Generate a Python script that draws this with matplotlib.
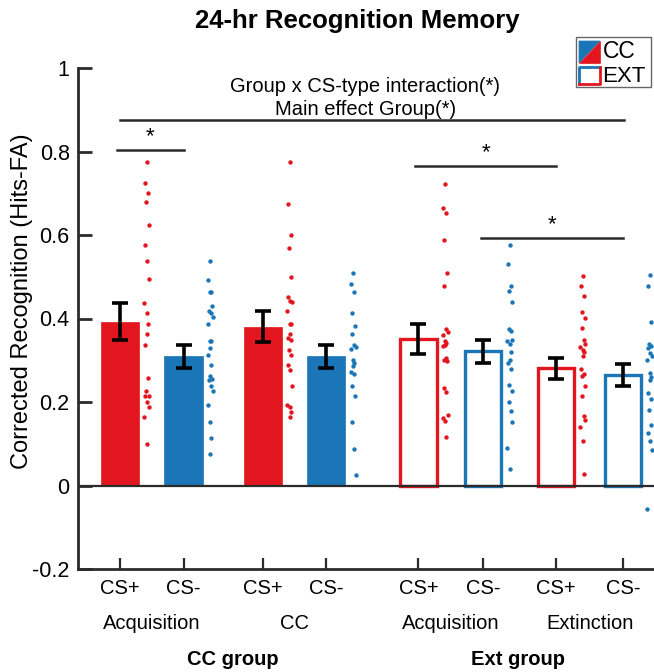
import numpy as np
import matplotlib
matplotlib.use("Agg")
import matplotlib.pyplot as plt
from matplotlib.patches import Rectangle, Polygon

plt.rcParams['font.family'] = ['Liberation Sans', 'DejaVu Sans']

RED = '#e3161f'
BLUE = '#1b76b7'
AXC = '#2b2b2b'

# ---- data -------------------------------------------------------------
cs_labels = ['CS+', 'CS-', 'CS+', 'CS-', 'CS+', 'CS-', 'CS+', 'CS-']
phase_labels = ['Acquisition', 'CC', 'Acquisition', 'Extinction']
group_labels = ['CC group', 'Ext group']

means = [0.392, 0.309, 0.380, 0.309, 0.352, 0.321, 0.281, 0.264]
sems = [0.044, 0.028, 0.037, 0.028, 0.036, 0.028, 0.025, 0.026]

cc_acq_csp = [0.774, 0.724, 0.700, 0.679, 0.624, 0.575, 0.537, 0.495, 0.438,
              0.413, 0.388, 0.363, 0.337, 0.258, 0.226, 0.214, 0.214, 0.200,
              0.187, 0.163, 0.100]
cc_acq_csm = [0.537, 0.493, 0.463, 0.463, 0.429, 0.417, 0.413, 0.403, 0.388,
              0.345, 0.345, 0.329, 0.313, 0.288, 0.263, 0.255, 0.252, 0.238,
              0.226, 0.194, 0.151, 0.113, 0.076]
cc_cc_csp = [0.774, 0.675, 0.600, 0.568, 0.500, 0.451, 0.443, 0.439, 0.417,
             0.388, 0.388, 0.363, 0.353, 0.349, 0.324, 0.313, 0.289, 0.277,
             0.238, 0.192, 0.187, 0.175, 0.163]
cc_cc_csm = [0.509, 0.483, 0.463, 0.413, 0.381, 0.364, 0.337, 0.332, 0.327,
             0.301, 0.293, 0.287, 0.271, 0.266, 0.238, 0.214, 0.151, 0.088,
             0.025]
ext_acq_csp = [0.722, 0.664, 0.652, 0.589, 0.509, 0.477, 0.375, 0.368, 0.360,
               0.345, 0.341, 0.337, 0.333, 0.305, 0.301, 0.298, 0.234, 0.223,
               0.170, 0.162, 0.154, 0.117]
ext_acq_csm = [0.575, 0.531, 0.477, 0.467, 0.439, 0.375, 0.369, 0.348, 0.345,
               0.340, 0.320, 0.301, 0.293, 0.278, 0.240, 0.227, 0.200, 0.178,
               0.153, 0.090, 0.040]
ext_ext_csp = [0.502, 0.477, 0.453, 0.415, 0.401, 0.377, 0.348, 0.339, 0.332,
               0.325, 0.319, 0.309, 0.278, 0.268, 0.262, 0.239, 0.215, 0.166,
               0.156, 0.140, 0.106, 0.028]
ext_ext_csm = [0.505, 0.478, 0.391, 0.340, 0.335, 0.329, 0.317, 0.310, 0.301,
               0.270, 0.260, 0.252, 0.222, 0.206, 0.180, 0.146, 0.126, 0.106,
               0.086, -0.057]

subjects = [cc_acq_csp, cc_acq_csm, cc_cc_csp, cc_cc_csm,
            ext_acq_csp, ext_acq_csm, ext_ext_csp, ext_ext_csm]

# ---- layout -----------------------------------------------------------
xpos = np.array([1.0, 2.0, 3.25, 4.25, 5.7, 6.72, 7.87, 8.92])
colors = [RED, BLUE, RED, BLUE, RED, BLUE, RED, BLUE]
filled = [True, True, True, True, False, False, False, False]
bar_w = 0.6
dot_dx = 0.42
jit = [0.0, -0.03, 0.02, -0.01, 0.03, -0.02, 0.01, 0.04, -0.04, 0.0, 0.02]

W, H = 654, 672
fig = plt.figure(figsize=(W / 100, H / 100), dpi=100)
ax = fig.add_axes([78 / W, 1 - 569 / H, 1 - 78 / W, (569 - 68) / H])


def fx(x):
    return x / W


def fy(y):
    return 1 - y / H


for i in range(len(xpos)):
    if filled[i]:
        ax.bar(xpos[i], means[i], width=bar_w, color=colors[i],
               edgecolor=colors[i], linewidth=0.5, zorder=2)
    else:
        ax.bar(xpos[i], means[i], width=bar_w - 0.03, facecolor='white',
               edgecolor=colors[i], linewidth=2.4, zorder=2)
    ax.errorbar(xpos[i], means[i], yerr=sems[i], fmt='none', ecolor='black',
                elinewidth=2.6, capsize=6, capthick=2.6, zorder=4)
    vals = subjects[i]
    dx = [dot_dx + jit[k % len(jit)] for k in range(len(vals))]
    ax.scatter(xpos[i] + np.array(dx), vals, s=10, color=colors[i],
               linewidths=0, zorder=3)

ax.axhline(0, color=AXC, lw=1.6, zorder=5)

ax.set_xlim(1 - 42 / 63.5, 1 + (W - 120) / 63.5)
ax.set_ylim(-0.2, 1.0)
ax.set_yticks([-0.2, 0, 0.2, 0.4, 0.6, 0.8, 1.0])
ax.set_yticklabels(['-0.2', '0', '0.2', '0.4', '0.6', '0.8', '1'])
ax.set_xticks(xpos)
ax.set_xticklabels(cs_labels)
ax.tick_params(axis='y', direction='in', length=10, width=2, color=AXC,
               labelsize=15.5, pad=6)
ax.tick_params(axis='x', direction='in', length=8, width=1.6, color=AXC,
               labelsize=14.5, pad=7)
for s in ['top', 'right']:
    ax.spines[s].set_visible(False)
for s in ['left', 'bottom']:
    ax.spines[s].set_color(AXC)
    ax.spines[s].set_linewidth(2)

fig.text(fx(22), fy(301), 'Corrected Recognition (Hits-FA)', rotation=90,
         ha='center', va='center', fontsize=17)

# phase and group labels below the axis
phase_x = [(xpos[2 * k] + xpos[2 * k + 1]) / 2 for k in range(4)]
for xc, lab in zip(phase_x, phase_labels):
    ax.text(xc, -0.330, lab, ha='center', va='center', fontsize=14.5,
            clip_on=False)
ax.text(2.78, -0.416, group_labels[0], ha='center', va='center',
        fontsize=14.5, fontweight='bold', clip_on=False)
ax.text(7.27, -0.416, group_labels[1], ha='center', va='center',
        fontsize=14.5, fontweight='bold', clip_on=False)


# significance bars
def sig(x0, x1, y, label='*', size=16, dy=0.006):
    ax.plot([x0, x1], [y, y], color=AXC, lw=1.8, clip_on=False, zorder=5)
    ax.text((x0 + x1) / 2, y + dy, label, ha='center', va='bottom',
            fontsize=size)


sig(xpos[0] - 0.05, xpos[1], 0.804)
sig(xpos[4] - 0.05, xpos[6], 0.766)
sig(xpos[5] - 0.03, xpos[7], 0.594)
ax.plot([xpos[0], xpos[7] + 0.02], [0.876, 0.876], color=AXC, lw=1.8)
ax.text(4.86, 0.955, 'Group x CS-type interaction(*)', ha='center',
        va='center', fontsize=14.5)
ax.text(4.86, 0.900, 'Main effect Group(*)', ha='center', va='center',
        fontsize=14.5)

fig.text(fx(357), fy(21), '24-hr Recognition Memory', ha='center',
         va='center', fontsize=18.5, fontweight='bold')

# legend drawn in figure pixel coordinates
tf = fig.transFigure
fig.add_artist(Rectangle((fx(576), fy(87)), fx(651) - fx(576),
                         fy(37) - fy(87), transform=tf, facecolor='white',
                         edgecolor='#666666', lw=1.0))
x0, x1, y0, y1 = 579, 600, 41, 63
fig.add_artist(Polygon([(fx(x0), fy(y0)), (fx(x1), fy(y0)), (fx(x0), fy(y1))],
                       closed=True, transform=tf, facecolor=BLUE,
                       edgecolor=BLUE, lw=0.5))
fig.add_artist(Polygon([(fx(x1), fy(y0)), (fx(x1), fy(y1)), (fx(x0), fy(y1))],
                       closed=True, transform=tf, facecolor=RED,
                       edgecolor=RED, lw=0.5))
y0, y1 = 67, 84
fig.add_artist(plt.Line2D([fx(x0), fx(x0), fx(x1)],
                          [fy(y1), fy(y0), fy(y0)], transform=tf,
                          color=BLUE, lw=2))
fig.add_artist(plt.Line2D([fx(x0), fx(x1), fx(x1)],
                          [fy(y1), fy(y1), fy(y0)], transform=tf,
                          color=RED, lw=2))
fig.text(fx(603), fy(52), 'CC', ha='left', va='center', fontsize=16.5)
fig.text(fx(602), fy(76), 'EXT', ha='left', va='center', fontsize=16)

fig.savefig('out.png', dpi=100)
